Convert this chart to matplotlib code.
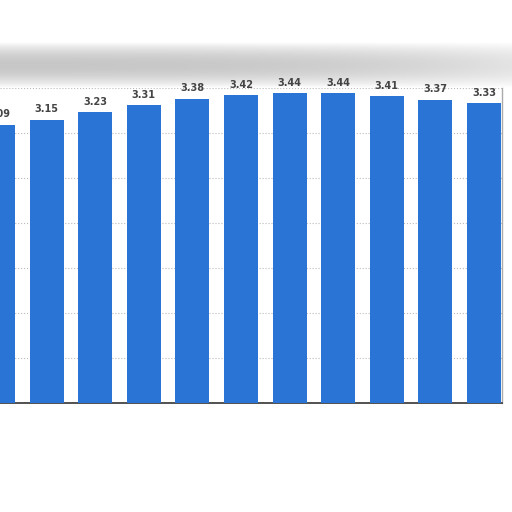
import numpy as np
import matplotlib
matplotlib.use('Agg')
import matplotlib.pyplot as plt

plt.rcParams['font.family'] = ['DejaVu Sans']

# 数据 (最左侧柱子被裁掉一部分)
values = [3.09, 3.15, 3.23, 3.31, 3.38, 3.42, 3.44, 3.44, 3.41, 3.37, 3.33]
labels = [f'{v:.2f}' for v in values]

C_BAR = '#2a74d6'
C_TXT = '#444444'

fig = plt.figure(figsize=(5.12, 5.12), dpi=100)
fig.patch.set_facecolor('white')

# 截图顶部的灰色阴影带
band = fig.add_axes([0, (512 - 88) / 512, 1, 46 / 512])
yy = np.linspace(0, 1, 50)[:, None]
xx = np.linspace(0, 1, 200)[None, :]
shade = 0.22 * np.sin(np.pi * yy) ** 0.8 * (1 - 0.5 * xx ** 3)
band.imshow(1 - shade, cmap='gray', vmin=0, vmax=1, aspect='auto',
            interpolation='bicubic')
band.axis('off')

ax = fig.add_axes([0, (512 - 403) / 512, 502 / 512, (403 - 88) / 512])
x = np.arange(len(values))
bars = ax.bar(x, values, width=0.7, color=C_BAR, zorder=3)
for b, lab in zip(bars, labels):
    ax.annotate(lab, (b.get_x() + b.get_width() / 2, b.get_height()),
                xytext=(0, 4), textcoords='offset points',
                ha='center', va='bottom', fontsize=7, fontweight='bold',
                color=C_TXT, annotation_clip=False)

ax.set_xlim(0.04, 10.37)
ax.set_ylim(0, 3.5)
ax.set_yticks(np.arange(0, 3.51, 0.5))
ax.yaxis.grid(True, ls=':', color='#bbbbbb', lw=0.8, zorder=0)
ax.set_xticks([])
ax.tick_params(left=False, labelleft=False)
for s in ['top', 'left']:
    ax.spines[s].set_visible(False)
ax.spines['bottom'].set_color('#333333')
ax.spines['bottom'].set_linewidth(1.2)
ax.spines['right'].set_color('#aaaaaa')
ax.spines['right'].set_linewidth(1.0)
ax.set_facecolor('none')

fig.savefig('out.png', dpi=100, facecolor='white')
